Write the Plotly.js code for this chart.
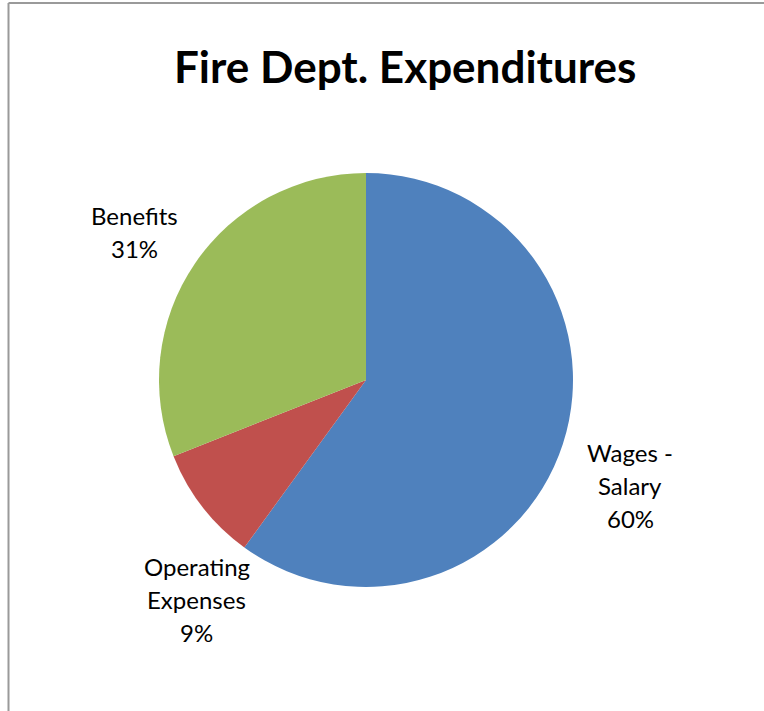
<!DOCTYPE html>
<html>
<head>
<meta charset="utf-8">
<script src="https://cdn.plot.ly/plotly-3.0.1.min.js"></script>
<style>
html,body{margin:0;padding:0;background:#fff;overflow:hidden;}
#chart{width:764px;height:711px;}
</style>
</head>
<body>
<div id="chart"></div>
<script>
// ---- data ----
const categories = ['Wages - Salary', 'Operating Expenses', 'Benefits'];
const values = [60, 9, 31];
const colors = ['#4F81BD', '#C0504D', '#9BBB59'];
const chartTitle = 'Fire Dept. Expenditures';

// ---- layout constants (pixels) ----
const W = 764, H = 711;
const cx = 366, cy = 380, R = 207;
const labelCenters = [[630, 485], [197, 599], [134, 232]];
const lineGap = 33;
const FONT = 'Lato, "Open Sans", sans-serif';

function wrap(text, maxLen) {
  const words = text.split(' ');
  const lines = [];
  let cur = '';
  words.forEach(w => {
    const t = cur ? cur + ' ' + w : w;
    if (t.length > maxLen && cur) { lines.push(cur); cur = w; }
    else cur = t;
  });
  if (cur) lines.push(cur);
  return lines;
}

const total = values.reduce((a, b) => a + b, 0);
const annotations = [];
categories.forEach((c, i) => {
  const lines = wrap(c, 9).concat([Math.round(values[i] / total * 100) + '%']);
  const n = lines.length;
  lines.forEach((ln, k) => {
    const py = labelCenters[i][1] + (k - (n - 1) / 2) * lineGap;
    annotations.push({
      xref: 'paper', yref: 'paper',
      x: labelCenters[i][0] / W, y: 1 - py / H,
      xanchor: 'center', yanchor: 'middle',
      text: ln, showarrow: false,
      font: {family: FONT, size: 24, color: '#000'}
    });
  });
});

annotations.push({
  xref: 'paper', yref: 'paper',
  x: 404.5 / W, y: 1 - 66 / H,
  xanchor: 'center', yanchor: 'middle',
  text: '<b>' + chartTitle + '</b>', showarrow: false,
  font: {family: FONT, size: 44, color: '#000'}
});

const trace = {
  type: 'pie',
  labels: categories,
  values: values,
  marker: {colors: colors, line: {width: 0}},
  sort: false,
  direction: 'clockwise',
  rotation: 0,
  textinfo: 'none',
  hoverinfo: 'label+percent',
  showlegend: false,
  domain: {
    x: [(cx - R) / W, (cx + R) / W],
    y: [1 - (cy + R) / H, 1 - (cy - R) / H]
  }
};

const bx = 8.5 / W, by = 1 - 3 / H;
const layout = {
  width: W, height: H,
  margin: {l: 0, r: 0, t: 0, b: 0},
  paper_bgcolor: '#fff',
  showlegend: false,
  annotations: annotations,
  shapes: [
    {type: 'line', xref: 'paper', yref: 'paper', x0: bx, x1: bx, y0: 0, y1: by,
     line: {color: '#9a9a9a', width: 2}, layer: 'below'},
    {type: 'line', xref: 'paper', yref: 'paper', x0: bx, x1: 1, y0: by, y1: by,
     line: {color: '#9a9a9a', width: 2}, layer: 'below'}
  ]
};

Plotly.newPlot('chart', [trace], layout, {displayModeBar: false, staticPlot: true});
</script>
</body>
</html>
